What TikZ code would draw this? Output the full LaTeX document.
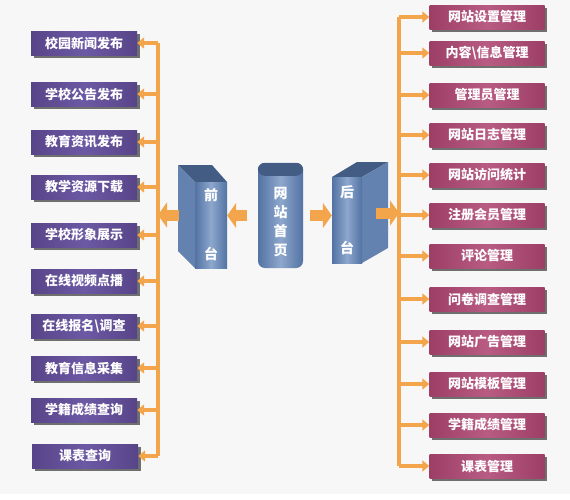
\documentclass[tikz,border=0pt]{standalone}
\usepackage{fontspec}
\newfontfamily\cjk{Noto Sans CJK SC}
\usetikzlibrary{arrows.meta,shadows}

\definecolor{bggrey}{HTML}{F7F7F7}
\definecolor{busorange}{HTML}{F2A54B}
\definecolor{purpleedge}{HTML}{574488}
\definecolor{purplemid}{HTML}{6C59A4}
\definecolor{roseedge}{HTML}{9C3E66}
\definecolor{rosemid}{HTML}{B95C84}
\definecolor{blueedge}{HTML}{5373A3}
\definecolor{bluemid}{HTML}{8DA7CD}
\definecolor{bluetop}{HTML}{425C83}
\definecolor{blueside}{HTML}{6482AF}

\tikzset{
  menubox/.style={rectangle, text=white, font=\cjk\bfseries\fontsize{13}{15}\selectfont,
    inner sep=0pt, minimum height=24pt,
    drop shadow={shadow xshift=2.5pt, shadow yshift=-2.5pt, fill=black, opacity=.55}},
  frontbox/.style={menubox, minimum width=106pt, left color=purpleedge, right color=purpleedge, middle color=purplemid},
  backbox/.style={menubox, minimum width=115pt, left color=roseedge, right color=roseedge, middle color=rosemid},
  face/.style={rectangle, inner sep=0pt, text=white, align=center,
    font=\cjk\bfseries\fontsize{14}{17}\selectfont,
    left color=blueedge, right color=blueedge, middle color=bluemid},
  bus/.style={draw=busorange, line width=3.2pt, rounded corners=3pt},
  branch/.style={draw=busorange, line width=3.2pt, -{Triangle[length=7pt,width=11pt]}},
  bigarrow/.style={draw=busorange, line width=11pt, -{Triangle[length=9pt,width=25pt]}}
}

\begin{document}
\begin{tikzpicture}[x=1pt, y=-1pt]
  \useasboundingbox (0,0) rectangle (570,499);
  \fill[bggrey] (0,0) rectangle (570,494);

  % left column: front end
  \node[frontbox] (l1) at (84,43) {校园新闻发布};
  \node[frontbox] (l2) at (84,94) {学校公告发布};
  \node[frontbox] (l3) at (84,142) {教育资讯发布};
  \node[frontbox] (l4) at (84,187) {教学资源下载};
  \node[frontbox] (l5) at (84,235) {学校形象展示};
  \node[frontbox] (l6) at (84,281) {在线视频点播};
  \node[frontbox] (l7) at (84,326) {在线报名\textbackslash 调查};
  \node[frontbox] (l8) at (84,368) {教育信息采集};
  \node[frontbox] (l9) at (84,410) {学籍成绩查询};
  \node[frontbox] (l10) at (85,456) {课表查询};

  % right column: back end
  \node[backbox] (r1) at (487,17) {网站设置管理};
  \node[backbox] (r2) at (487,53) {内容\textbackslash 信息管理};
  \node[backbox] (r3) at (487,95) {管理员管理};
  \node[backbox] (r4) at (487,135) {网站日志管理};
  \node[backbox] (r5) at (487,175) {网站访问统计};
  \node[backbox] (r6) at (487,215) {注册会员管理};
  \node[backbox] (r7) at (487,256) {评论管理};
  \node[backbox] (r8) at (487,299) {问卷调查管理};
  \node[backbox] (r9) at (487,342) {网站广告管理};
  \node[backbox] (r10) at (487,384) {网站模板管理};
  \node[backbox] (r11) at (487,425) {学籍成绩管理};
  \node[backbox] (r12) at (487,466) {课表管理};

  % middle blocks
  \fill[bluetop] (195,182) -- (178,165) -- (212,165) -- (227,182) -- cycle;
  \fill[blueside] (195,182) -- (178,165) -- (178,251) -- (195,268) -- cycle;
  \node[face, minimum width=32pt, minimum height=86pt] (qian) at (211,225) {前\\[42pt]台};

  \fill[bluetop] (332,177) -- (357,162) -- (388,162) -- (362,177) -- cycle;
  \fill[blueside] (362,177) -- (388,162) -- (388,248) -- (362,263) -- cycle;
  \node[face, minimum width=30pt, minimum height=86pt] (hou) at (347,220) {后\\[39pt]台};

  \node[face, rounded corners=7pt, minimum width=45pt, minimum height=105pt] (home) at (280.5,215.5) {};
  \fill[bluetop, rounded corners=7pt] (home.north west) rectangle ([yshift=-13pt]home.north east);
  \node[text=white, align=center, font=\cjk\bfseries\fontsize{14}{19}\selectfont]
    (homelabel) at (280.5,222) {网\\站\\首\\页};

  \coordinate (lbus) at (158,0);
  \coordinate (rbus) at (399,0);

  % buses
  \path[bus] (l1.east -| lbus) -- (l10.east -| lbus);
  \path[bus] (r1.west -| rbus) -- (r12.west -| rbus);

  \foreach \i in {1,...,10}
    \draw[branch] (l\i.east -| lbus) -- (l\i.east);
  \foreach \i in {1,...,12}
    \draw[branch] (r\i.west -| rbus) -- (r\i.west);

  % big arrows
  \draw[bigarrow, shorten <=11pt] (home.west) -- (home.west -| qian.east);
  \draw[bigarrow, shorten <=7pt] (home.east) -- (home.east -| hou.west);
  \draw[bigarrow, shorten <=16pt] ([yshift=10pt]qian.west) -- ([yshift=10pt]qian.west -| lbus);
  \draw[bigarrow, shorten <=14pt] ([yshift=7pt]hou.east) -- ([yshift=7pt]hou.east -| rbus);
\end{tikzpicture}
\end{document}
